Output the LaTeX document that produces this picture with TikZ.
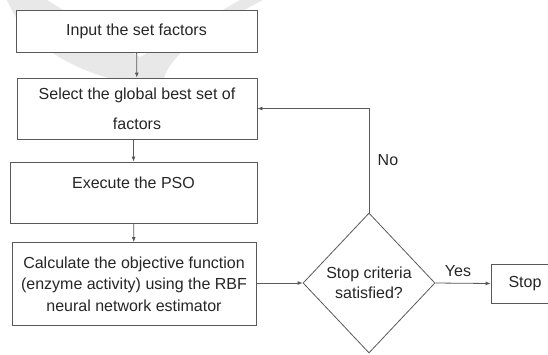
\documentclass[tikz,border=0pt]{standalone}
\usepackage{fontspec}
\setmainfont{Liberation Sans}
\usetikzlibrary{shapes.geometric,arrows.meta}

\begin{document}
\begin{tikzpicture}[x=1pt,y=-1pt,
    >={Latex[length=5pt,width=4pt]},
    every node/.style={font=\fontsize{16}{21.5}\selectfont,text=black!85},
    line/.style={draw=gray!70!black,line width=0.8pt},
    box/.style={line,fill=white,rectangle,inner sep=0pt,align=center}]
    \clip (0,0) rectangle (548,354);

    % Watermark
    \fill[gray!18] (7,0) .. controls (25,45) and (80,80) .. (162,88)
        .. controls (163,65) and (185,40) .. (263,0) -- (240,0) -- (140,57) -- (47,0) -- cycle;

    % Boxes
    \node[box,minimum width=241pt,minimum height=42pt] (input) at (136.5,31) {Input the set factors};
    \node[box,minimum width=240pt,minimum height=61pt] (select) at (137,108.5) {Select the global best set of\\[8.5pt]factors};
    \node[box,minimum width=247pt,minimum height=61pt,text depth=19pt] (pso) at (133.5,192.5) {Execute the PSO};
    \node[box,minimum width=244pt,minimum height=83pt] (calc) at (134,284) {Calculate the objective function\\(enzyme activity) using the RBF\\neural network estimator};
    \node[line,fill=white,diamond,minimum width=132pt,minimum height=140pt,inner sep=0pt,align=center] (crit) at (369,283) {Stop criteria\\[-2pt]satisfied?};
    \node[box,minimum width=68pt,minimum height=39pt] (stop) at (525,283.5) {Stop};

    % Arrows
    \draw[line,->] (input) -- (select);
    \draw[line,->] (pso.north |- select.south) -- (pso.north);
    \draw[line,->] (pso) -- (calc);
    \draw[line,->] (calc.east |- crit.west) -- (crit.west);
    \draw[line,->] (crit.east) -- (stop.west) node[midway,above,xshift=-5pt,yshift=3pt] {Yes};
    \draw[line,->] (crit.north) |- (select.east) node[pos=0.25,right,xshift=5pt] {No};
\end{tikzpicture}
\end{document}
